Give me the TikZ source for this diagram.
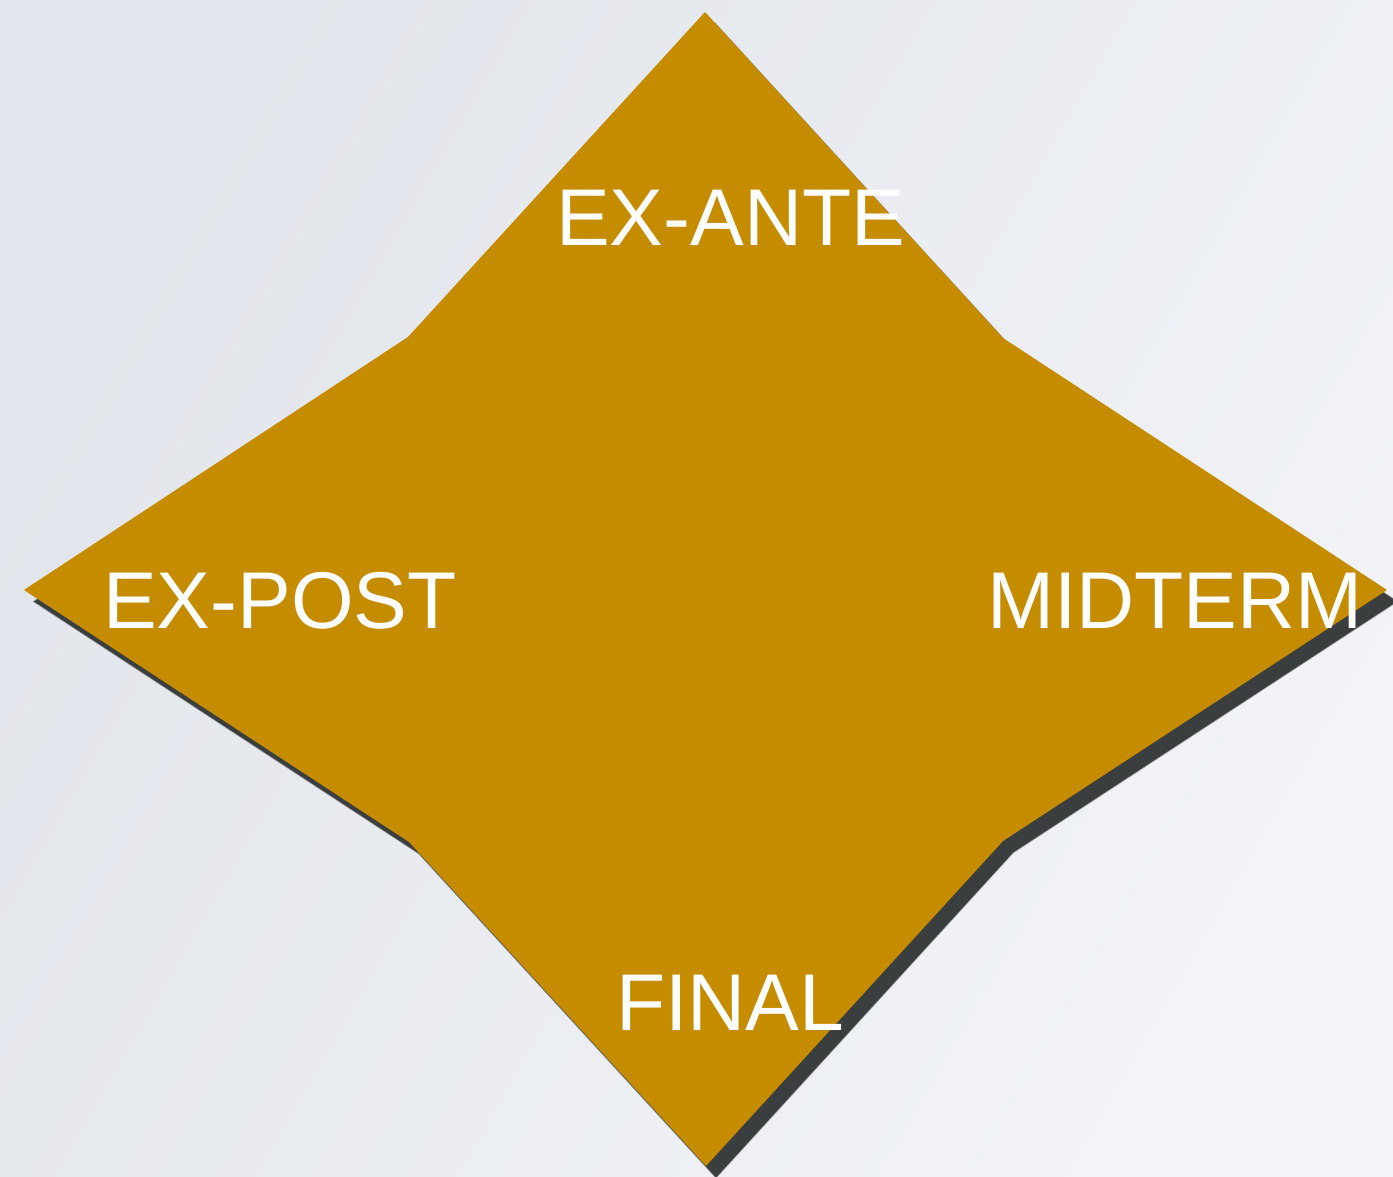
\documentclass[tikz,border=0pt]{standalone}
\usepackage{fontspec}
\setmainfont{Liberation Sans}
\definecolor{bgA}{HTML}{E2E5EB}
\definecolor{bgB}{HTML}{F2F4F7}
\definecolor{starfill}{HTML}{C58C00}
\definecolor{shadowc}{HTML}{3B3E3F}
\tikzset{
  lbl/.style={anchor=base west, inner sep=0pt, text=white, font=\fontsize{80.5}{82}\selectfont},
  sh/.style={shift={(10,11.5)}},
}
\begin{document}
\begin{tikzpicture}[x=1pt,y=-1pt]
\useasboundingbox (0,0) rectangle (1393,1177);
\shade[shading=axis, left color=bgA, right color=bgB, shading angle=60] (0,0) rectangle (1393,1177);
% corners
\coordinate (T) at (705,12);
\coordinate (UR) at (1003,338);
\coordinate (R) at (1387,590);
\coordinate (LR) at (1003,841);
\coordinate (B) at (706,1166);
\coordinate (LL) at (409,842);
\coordinate (L) at (24,590);
\coordinate (UL) at (408,337);
% shadow (soft edge + core)
\filldraw[shadowc, draw opacity=0.45, line width=1.6pt, line join=miter] ([sh]T) -- ([sh]UR) -- ([sh]R) -- ([sh]LR) -- ([sh]B) -- ([sh]LL) -- ([sh]L) -- ([sh]UL) -- cycle;
% star
\fill[starfill] (T) -- (UR) -- (R) -- (LR) -- (B) -- (LL) -- (L) -- (UL) -- cycle;
% labels
\node[lbl] (exante) at (556,246) {EX-ANTE};
\node[lbl] (expost) at (103,628) {EX-POST};
\node[lbl] (midterm) at (987,628) {MIDTERM};
\node[lbl] (final) at (616,1030) {FINAL};
\end{tikzpicture}
\end{document}
